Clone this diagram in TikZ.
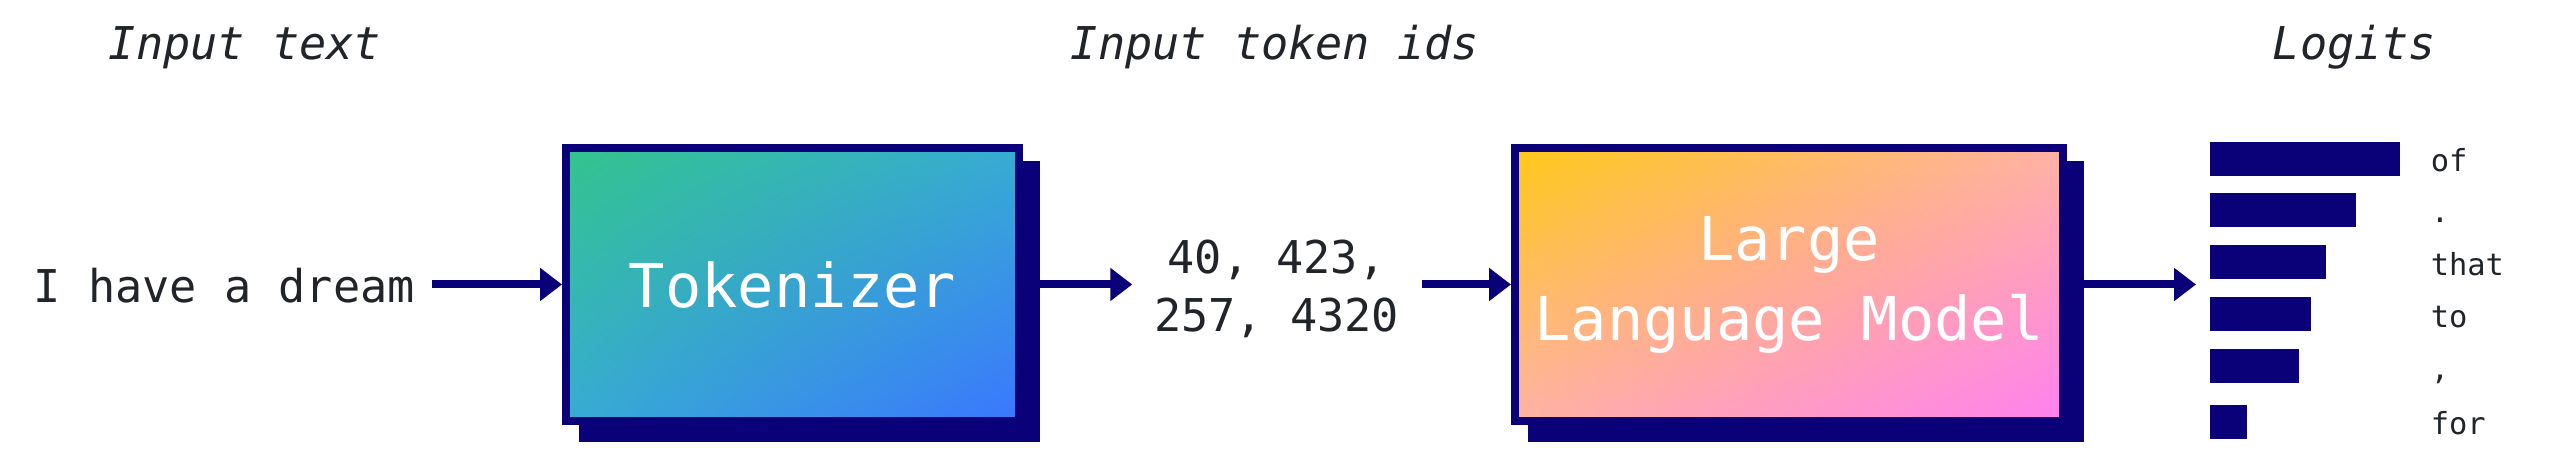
\documentclass[tikz,border=0pt]{standalone}
\usepackage{fontspec}
\setmonofont{DejaVu Sans Mono}
\usetikzlibrary{arrows.meta,backgrounds,calc,shadings}
\definecolor{navy}{RGB}{10,0,120}
\definecolor{ink}{RGB}{33,37,41}
\definecolor{tokA}{RGB}{51,196,140}
\definecolor{tokB}{RGB}{58,118,255}
\definecolor{tokM}{RGB}{55,172,212}
\definecolor{llmA}{RGB}{255,200,25}
\definecolor{llmB}{RGB}{255,128,240}
\definecolor{llmM}{RGB}{255,178,165}
\tikzset{
  bodytext/.style={font=\ttfamily\fontsize{11.3}{14.5}\selectfont, text=ink, inner sep=0pt},
  titletext/.style={font=\ttfamily\itshape\fontsize{11.3}{14.5}\selectfont, text=ink, inner sep=0pt, anchor=base west},
  boxnode/.style={draw=navy, line width=2pt, inner sep=0pt, minimum height=68.25pt, text=white,
    font=\ttfamily\fontsize{15.1}{20}\selectfont, align=center},
  shadowbox/.style={fill=navy},
  flow/.style={draw=navy, line width=2pt, -{Triangle[length=5.5pt,width=8pt]}},
  barnode/.style={fill=navy, inner sep=0pt, outer sep=0pt, minimum height=8.5pt, anchor=west},
  logitlabel/.style={font=\ttfamily\fontsize{7.6}{9}\selectfont, text=ink, inner sep=0pt, anchor=base west},
}
\begin{document}
\begin{tikzpicture}[x=0.25pt,y=-0.25pt]
\useasboundingbox (0,0) rectangle (2560,466);
\begin{scope}[on background layer]
  \fill[white] (0,0) rectangle (2560,466);
\end{scope}

% titles
\node[titletext] (t1) at (108,60) {Input text};
\node[titletext] (t2) at (1070,60) {Input token ids};
\node[titletext] (t3) at (2272,60) {Logits};

% input text
\node[bodytext, anchor=base west] (input) at (33,303) {I have a dream};

% boxes
\node[boxnode, minimum width=113.25pt, upper left=tokA, lower right=tokB, upper right=tokM, lower left=tokM]
  (tok) at (792.5,284.5) {Tokenizer};
\node[boxnode, minimum width=137pt, upper left=llmA, lower right=llmB, upper right=llmM, lower left=llmM]
  (llm) at (1789,284.5) {Large\\Language Model};

\begin{scope}[on background layer]
  \fill[shadowbox] ([xshift=4.25pt,yshift=-4.25pt]tok.north west) rectangle ([xshift=4.25pt,yshift=-4.25pt]tok.south east);
  \fill[shadowbox] ([xshift=4.25pt,yshift=-4.25pt]llm.north west) rectangle ([xshift=4.25pt,yshift=-4.25pt]llm.south east);
\end{scope}
\coordinate (tokout) at ([xshift=4.25pt]tok.east);
\coordinate (llmout) at ([xshift=4.25pt]llm.east);

% token ids
\node[bodytext, align=center] (ids) at (1276.5,288.5) {40, 423,\\257, 4320};

% logits bars
\node[barnode, minimum width=47.5pt]  (b1) at (2210,159) {};
\node[barnode, minimum width=36.5pt]  (b2) at (2210,210) {};
\node[barnode, minimum width=29pt]    (b3) at (2210,262.5) {};
\node[barnode, minimum width=25.25pt] (b4) at (2210,314.5) {};
\node[barnode, minimum width=22.25pt] (b5) at (2210,366.5) {};
\node[barnode, minimum width=9.25pt]  (b6) at (2210,422) {};
\node[logitlabel] (l1) at (2430,172) {of};
\node[logitlabel] (l2) at (2430,223) {.};
\node[logitlabel] (l3) at (2430,275.5) {that};
\node[logitlabel] (l4) at (2430,327.5) {to};
\node[logitlabel] (l5) at (2430,379.5) {,};
\node[logitlabel] (l6) at (2430,435) {for};
\coordinate (logitsin) at (2196,284.5);

% connectors
\draw[flow, shorten <=4pt] (input.east |- tok.west) -- (tok.west);
\draw[flow, shorten >=5.25pt] (tokout) -- (tok.east -| ids.west);
\draw[flow, shorten <=5.5pt] (tok.east -| ids.east) -- (llm.west);
\draw[flow] (llmout) -- (logitsin);
\end{tikzpicture}
\end{document}
